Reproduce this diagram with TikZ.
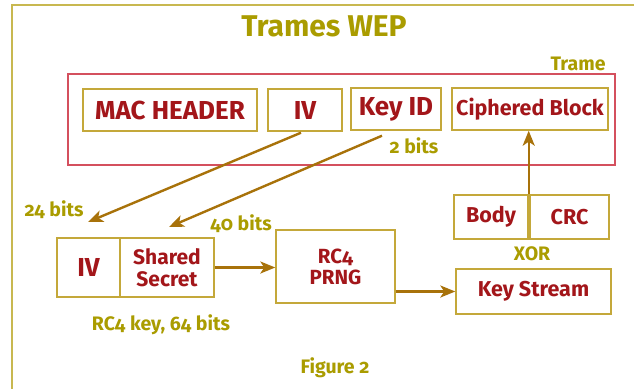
\documentclass[tikz,border=0pt]{standalone}
\usepackage{fontspec}
\setmainfont[Numbers=OldStyle]{Fira Sans}
\usetikzlibrary{arrows.meta,calc}
\definecolor{olive}{HTML}{AA9C00}
\definecolor{dred}{HTML}{A3161A}
\definecolor{gold}{HTML}{C4A83A}
\definecolor{pinkred}{HTML}{D4505E}
\definecolor{brownarr}{HTML}{A8720A}
\definecolor{frame}{HTML}{C8B850}
\tikzset{
  box/.style={draw=gold, line width=1.4pt, inner sep=0pt, text=dred, font=\bfseries\fontsize{21.5}{22}\selectfont, align=center},
  bigbox/.style={box, font=\bfseries\fontsize{26}{28}\selectfont},
  lbl/.style={text=olive, font=\bfseries\fontsize{19.5}{21}\selectfont, inner sep=0pt},
  arr/.style={draw=brownarr, line width=2.4pt, -{Stealth[length=15pt,width=12pt,inset=4pt]}}
}
\begin{document}
\begin{tikzpicture}[x=1pt,y=-1pt]
\useasboundingbox (0,0) rectangle (634,389);
\fill[white] (0,0) rectangle (634,389);
% outer frame
\draw[frame, line width=1.5pt] (634,5) -- (12,5) -- (12,389);
% title
\node[text=olive, font=\bfseries\fontsize{30}{32}\selectfont, inner sep=0pt] (title) at (324,26) {Trames WEP};
% Trame
\draw[pinkred, line width=1.4pt] (68,74) rectangle (615,165);
\node[lbl] (trame) at (578,64) {Trame};
\node[bigbox, minimum width=174pt, minimum height=42pt] (mac) at (170,110) {MAC HEADER};
\node[bigbox, minimum width=74pt, minimum height=42pt] (iv) at (305,110) {IV};
\node[bigbox, minimum width=90pt, minimum height=42pt] (kid) at (396,109) {Key ID};
\node[box, minimum width=156pt, minimum height=42pt] (cb) at (530,109) {Ciphered Block};
\node[lbl] (twob) at (414,146) {2 bits};
% RC4 key
\node[bigbox, minimum width=63pt, minimum height=59pt] (iv2) at (88.5,267.5) {IV};
\node[box, minimum width=94pt, minimum height=59pt, font=\bfseries\fontsize{21}{22}\selectfont] (ss) at (167,267.5) {Shared\\Secret};
\node[lbl] (b24) at (54,210) {24 bits};
\node[lbl] (b40) at (241,224) {40 bits};
\node[lbl] (rc4k) at (161,325) {RC4 key, 64 bits};
% RC4 PRNG
\node[box, minimum width=119pt, minimum height=73pt, font=\bfseries\fontsize{20.5}{21}\selectfont] (rc4) at (335.5,266.5) {RC4\\PRNG};
% Key stream
\node[box, minimum width=155pt, minimum height=45pt] (ks) at (533.5,291.5) {Key Stream};
% Body / CRC
\node[box, minimum width=74pt, minimum height=44pt] (body) at (491,217) {Body};
\node[box, minimum width=79pt, minimum height=44pt] (crc) at (569.5,217) {CRC};
\node[lbl] (xor) at (532,254) {XOR};
\node[lbl] (fig) at (335,368) {Figure 2};
% arrows
\coordinate (t1) at (88,222);
\coordinate (t2) at (169,227);
\draw[arr] ($(iv.south)+(-4,1)$) -- (t1);
\draw[arr] ($(kid.south)+(-14,5)$) -- (t2);
\draw[arr] (ss.east) -- (rc4.west |- ss.east);
\draw[arr] (rc4.east |- ks.west) -- (ks.west);
\draw[arr] (body.north east) -- (body.north east |- cb.south);
\end{tikzpicture}
\end{document}
